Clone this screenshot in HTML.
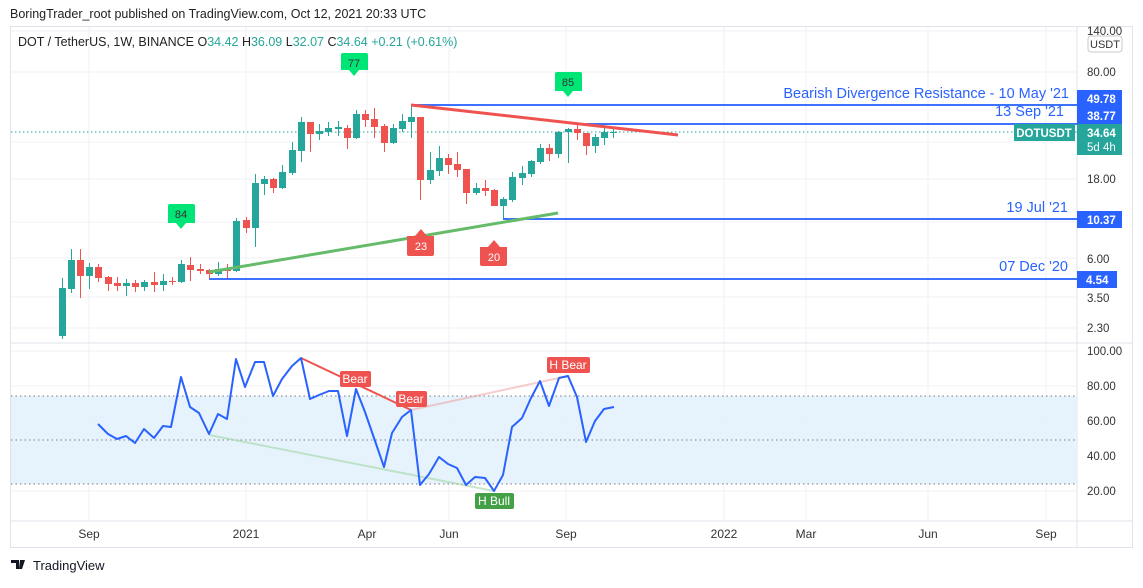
<!DOCTYPE html>
<html><head><meta charset="utf-8"><style>
body{margin:0;background:#fff;width:1143px;height:583px;overflow:hidden;font-family:"Liberation Sans",sans-serif}
svg text{font-family:"Liberation Sans",sans-serif}
</style></head><body>
<svg id="s" width="1143" height="583" viewBox="0 0 1143 583" xmlns="http://www.w3.org/2000/svg">
<text x="10" y="18" font-size="12.5" fill="#222">BoringTrader_root published on TradingView.com, Oct 12, 2021 20:33 UTC</text>
<rect x="10.5" y="26.5" width="1122" height="521" fill="none" stroke="#e0e3eb"/>
<g stroke="#f0f1f4" stroke-width="1">
<line x1="89" y1="27" x2="89" y2="521"/><line x1="246" y1="27" x2="246" y2="521"/><line x1="367" y1="27" x2="367" y2="521"/><line x1="449" y1="27" x2="449" y2="521"/><line x1="566" y1="27" x2="566" y2="521"/><line x1="724" y1="27" x2="724" y2="521"/><line x1="806" y1="27" x2="806" y2="521"/><line x1="928" y1="27" x2="928" y2="521"/><line x1="1046" y1="27" x2="1046" y2="521"/>
<line x1="11" y1="31" x2="1077" y2="31"/><line x1="11" y1="72" x2="1077" y2="72"/><line x1="11" y1="142" x2="1077" y2="142"/><line x1="11" y1="179" x2="1077" y2="179"/><line x1="11" y1="222" x2="1077" y2="222"/><line x1="11" y1="258" x2="1077" y2="258"/><line x1="11" y1="297" x2="1077" y2="297"/><line x1="11" y1="328" x2="1077" y2="328"/>
<line x1="11" y1="351" x2="1077" y2="351"/><line x1="11" y1="386" x2="1077" y2="386"/><line x1="11" y1="421" x2="1077" y2="421"/><line x1="11" y1="456" x2="1077" y2="456"/><line x1="11" y1="491" x2="1077" y2="491"/>
</g>
<line x1="11" y1="343" x2="1133" y2="343" stroke="#e0e3eb"/>
<line x1="11" y1="521" x2="1133" y2="521" stroke="#e0e3eb"/>
<line x1="1077" y1="27" x2="1077" y2="548" stroke="#e0e3eb"/>
<text x="18" y="46" font-size="12.5" fill="#222">DOT / TetherUS, 1W, BINANCE  O<tspan fill="#26a69a">34.42</tspan>  H<tspan fill="#26a69a">36.09</tspan>  L<tspan fill="#26a69a">32.07</tspan>  C<tspan fill="#26a69a">34.64</tspan>  <tspan fill="#26a69a">+0.21 (+0.61%)</tspan></text>
<rect x="11" y="396" width="1066" height="88" fill="#e3f2fd" opacity="0.9"/>
<g stroke="#787b86" stroke-dasharray="1.5,3" stroke-width="1"><line x1="11" y1="396" x2="1077" y2="396"/><line x1="11" y1="440" x2="1077" y2="440"/><line x1="11" y1="484" x2="1077" y2="484"/></g>
<line x1="11" y1="132" x2="1077" y2="132" stroke="#26a69a" stroke-dasharray="1.5,2.5"/>
<g id="c"></g>
<line x1="411" y1="105" x2="1077" y2="105" stroke="#2962ff" stroke-width="2" opacity=".9"/>
<line x1="577" y1="124" x2="1077" y2="124" stroke="#2962ff" stroke-width="2" opacity=".9"/>
<line x1="503" y1="219" x2="1077" y2="219" stroke="#2962ff" stroke-width="2" opacity=".9"/>
<line x1="209" y1="279" x2="1077" y2="279" stroke="#2962ff" stroke-width="2" opacity=".9"/>
<line x1="411" y1="105" x2="678" y2="135" stroke="#ef5350" stroke-width="3"/>
<line x1="209" y1="272" x2="558" y2="213" stroke="#66bb6a" stroke-width="3"/>
<g font-size="14.5" fill="#2962ff" text-anchor="end"><text x="1069" y="98">Bearish Divergence Resistance - 10 May '21</text><text x="1064" y="116">13 Sep '21</text><text x="1068" y="212">19 Jul '21</text><text x="1068" y="271">07 Dec '20</text></g>
<g font-size="11" text-anchor="middle">
<path d="M343 53h23a2 2 0 0 1 2 2v15h-9l-5 6l-5-6h-8v-15a2 2 0 0 1 2-2z" fill="#00e676"/><text x="354" y="67" fill="#333">77</text>
<path d="M557 72h23a2 2 0 0 1 2 2v17h-9l-5 6l-5-6h-8v-17a2 2 0 0 1 2-2z" fill="#00e676"/><text x="568" y="86" fill="#333">85</text>
<path d="M170 204h23a2 2 0 0 1 2 2v17h-9l-5 6l-5-6h-8v-17a2 2 0 0 1 2-2z" fill="#00e676"/><text x="181" y="218" fill="#333">84</text>
<path d="M407 236h8l6-7l6 7h7v18a2 2 0 0 1-2 2h-23a2 2 0 0 1-2-2z" fill="#ef5350"/><text x="421" y="250" fill="#fff">23</text>
<path d="M480 247h8l6-7l6 7h7v17a2 2 0 0 1-2 2h-23a2 2 0 0 1-2-2z" fill="#ef5350"/><text x="494" y="261" fill="#fff">20</text>
</g>
<line x1="209" y1="435" x2="494" y2="491" stroke="#a5d6a7" stroke-width="2" opacity=".6"/>
<line x1="301" y1="358" x2="411" y2="410" stroke="#ef5350" stroke-width="2"/>
<line x1="411" y1="410" x2="568" y2="376" stroke="#ef9a9a" stroke-width="2" opacity=".5"/>
<polyline fill="none" stroke="#2962ff" stroke-width="2" stroke-linejoin="round" points="98,424 108,434 117,439 126,436 135,443 144,429 154,438 163,426 171,427 181,377 190,407 199,413 209,434 218,414 227,419 236,359 245,387 255,362 264,362 273,396 282,379 292,366 301,358 310,399 319,395 329,391 338,391 347,436 356,389 365,412 374,438 384,467 392,433 402,417 411,410 420,485 429,474 439,457 448,464 457,468 466,485 475,477 485,478 494,491 503,475 512,427 522,418 531,398 540,381 549,406 559,378 568,376 577,397 586,442 595,421 604,409 614,407"/>
<g font-size="12" fill="#fff" text-anchor="middle">
<rect x="340" y="371" width="31" height="16" rx="2" fill="#ef5350"/><text x="355" y="383">Bear</text>
<rect x="396" y="391" width="31" height="16" rx="2" fill="#ef5350"/><text x="411" y="403">Bear</text>
<rect x="547" y="357" width="43" height="16" rx="2" fill="#ef5350"/><text x="568" y="369">H Bear</text>
<rect x="475" y="493" width="39" height="16" rx="2" fill="#43a047"/><text x="494" y="505">H Bull</text>
</g>
<g font-size="11.5" fill="#333" text-anchor="start">
<text x="1087" y="35">140.00</text><text x="1087" y="76">80.00</text><text x="1087" y="183">18.00</text><text x="1087" y="263">6.00</text><text x="1087" y="302">3.50</text><text x="1087" y="332">2.30</text>
<text x="1087" y="355">100.00</text><text x="1087" y="390">80.00</text><text x="1087" y="425">60.00</text><text x="1087" y="460">40.00</text><text x="1087" y="495">20.00</text>
</g>
<rect x="1088" y="36" width="34" height="16" rx="3" fill="#fff" stroke="#c8cad0"/><text x="1105" y="48" font-size="11" text-anchor="middle" fill="#333">USDT</text>
<g font-size="11.5" fill="#fff" font-weight="bold">
<rect x="1077" y="90" width="45" height="17" fill="#2962ff"/><text x="1087" y="103">49.78</text>
<rect x="1077" y="107" width="45" height="17" fill="#2962ff"/><text x="1087" y="120">38.77</text>
<rect x="1077" y="124" width="45" height="31" fill="#26a69a"/><text x="1087" y="137">34.64</text><text x="1087" y="151" font-weight="normal">5d 4h</text>
<rect x="1014" y="124" width="61" height="17" fill="#26a69a"/><text x="1044" y="137" text-anchor="middle">DOTUSDT</text>
<rect x="1077" y="211" width="45" height="17" fill="#2962ff"/><text x="1087" y="224">10.37</text>
<rect x="1077" y="271" width="40" height="17" fill="#2962ff"/><text x="1086" y="284">4.54</text>
</g>
<g font-size="12" fill="#333" text-anchor="middle">
<text x="89" y="538">Sep</text><text x="246" y="538">2021</text><text x="367" y="538">Apr</text><text x="449" y="538">Jun</text><text x="566" y="538">Sep</text><text x="724" y="538">2022</text><text x="806" y="538">Mar</text><text x="928" y="538">Jun</text><text x="1046" y="538">Sep</text>
</g>
<path d="M11 560h8v9h-3v-6h-5z M20 560h5l-3 9h-3z" fill="#131722"/>
<text x="33" y="570" font-size="13" fill="#131722">TradingView</text>
</svg>
<script>
var d=[[62,1,288,336,278,339],[71,1,260,289,249,293],[80,0,260,276,249,298],[89,1,267,276,263,289],[98,0,267,278,264,282],[108,0,277,284,276,291],[117,0,283,286,277,291],[126,1,283,286,279,296],[135,0,283,287,280,292],[144,1,282,287,280,291],[154,0,282,285,272,292],[163,1,281,285,274,291],[172,0,281,282,277,285],[181,1,264,282,260,283],[190,0,265,270,257,281],[200,0,269,271,264,274],[209,0,270,274,269,279],[218,1,269,274,262,276],[227,0,269,271,264,279],[236,1,221,271,218,272],[246,0,220,228,217,233],[255,1,183,228,174,247],[264,1,179,184,176,195],[273,0,179,188,178,193],[282,1,172,188,165,189],[292,1,150,173,142,175],[301,1,122,151,117,162],[310,0,122,134,122,152],[319,1,131,134,124,140],[328,1,128,132,122,136],[338,1,127,129,121,136],[347,0,128,138,125,149],[356,1,114,138,110,139],[365,0,114,120,110,127],[374,0,119,127,108,138],[384,0,126,143,124,152],[393,1,128,143,124,144],[402,1,121,129,114,132],[411,1,117,122,105,138],[420,0,117,180,117,200],[430,1,170,180,152,184],[439,1,158,171,146,176],[448,0,158,165,154,174],[457,0,164,170,152,177],[466,0,169,193,169,204],[476,1,188,193,183,195],[485,0,188,191,180,196],[494,0,190,206,189,206],[503,1,199,206,197,219],[512,1,177,200,172,202],[522,1,173,178,166,185],[531,1,161,174,160,177],[540,1,148,162,144,164],[549,0,148,154,144,161],[558,1,132,154,131,158],[568,1,129,132,128,163],[577,0,129,133,124,140],[586,0,133,146,133,155],[595,1,137,146,134,153],[604,1,132,138,125,145],[613,1,132,133,129,138]];
var g=document.getElementById('c'),h='';
d.forEach(function(c){var col=c[1]?'#26a69a':'#ef5350';h+='<line x1="'+(c[0]+.5)+'" x2="'+(c[0]+.5)+'" y1="'+c[4]+'" y2="'+c[5]+'" stroke="'+col+'"/><rect x="'+(c[0]-3)+'" y="'+c[2]+'" width="7" height="'+Math.max(1,c[3]-c[2])+'" fill="'+col+'"/>';});
g.innerHTML=h;
</script>
</body></html>
